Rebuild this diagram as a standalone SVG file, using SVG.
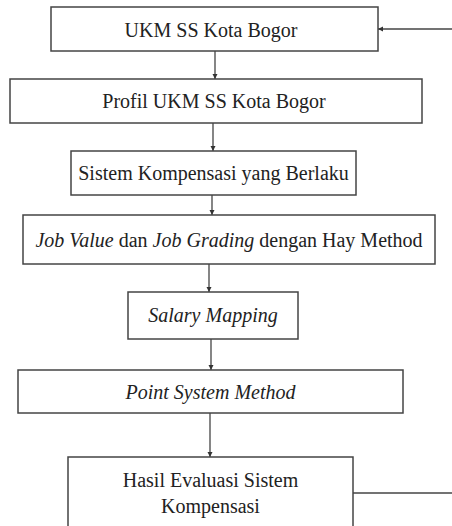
<svg xmlns="http://www.w3.org/2000/svg" width="452" height="526" viewBox="0 0 452 526">
<defs>
<style>
.box{fill:#fff;stroke:#444;stroke-width:1.5}
.t{font-family:'Liberation Serif','Times New Roman',serif;font-size:20px;fill:#222;text-anchor:middle}
.i{font-style:italic}
.c{fill:none;stroke:#444;stroke-width:1.3}
</style>
<marker id="ah" markerWidth="6" markerHeight="6" refX="5" refY="3" orient="auto" markerUnits="userSpaceOnUse">
<path d="M0,0.5 L5,3 L0,5.5 Z" fill="#333"/>
</marker>
</defs>
<rect width="452" height="526" fill="#fff"/>
<g id="connectors">
<line class="c" x1="215" y1="51" x2="215" y2="79" marker-end="url(#ah)"/>
<line class="c" x1="213" y1="123" x2="213" y2="151" marker-end="url(#ah)"/>
<line class="c" x1="212" y1="195" x2="212" y2="215" marker-end="url(#ah)"/>
<line class="c" x1="209" y1="264" x2="209" y2="292" marker-end="url(#ah)"/>
<line class="c" x1="211" y1="339" x2="211" y2="370" marker-end="url(#ah)"/>
<line class="c" x1="210" y1="413" x2="210" y2="457" marker-end="url(#ah)"/>
<line class="c" x1="353" y1="493" x2="452" y2="493"/>
<line class="c" x1="452" y1="29" x2="378" y2="29" marker-end="url(#ah)"/>
</g>
<g id="n1"><rect class="box" x="51" y="7" width="327" height="44"/><text class="t" x="211" y="37">UKM SS Kota Bogor</text></g>
<g id="n2"><rect class="box" x="10" y="79" width="412" height="44"/><text class="t" x="214" y="108">Profil UKM SS Kota Bogor</text></g>
<g id="n3"><rect class="box" x="71" y="151" width="285" height="44"/><text class="t" x="213.5" y="180">Sistem Kompensasi yang Berlaku</text></g>
<g id="n4"><rect class="box" x="23" y="215" width="412" height="49"/><text class="t" x="229" y="247"><tspan class="i">Job Value</tspan> dan <tspan class="i">Job Grading</tspan> dengan Hay Method</text></g>
<g id="n5"><rect class="box" x="128" y="292" width="170" height="47"/><text class="t i" x="213" y="322">Salary Mapping</text></g>
<g id="n6"><rect class="box" x="18" y="370" width="385" height="43"/><text class="t i" x="210.5" y="399">Point System Method</text></g>
<g id="n7"><rect class="box" x="68" y="457" width="285" height="80"/><text class="t" x="210.5" y="487">Hasil Evaluasi Sistem</text><text class="t" x="210.5" y="513">Kompensasi</text></g>
</svg>
